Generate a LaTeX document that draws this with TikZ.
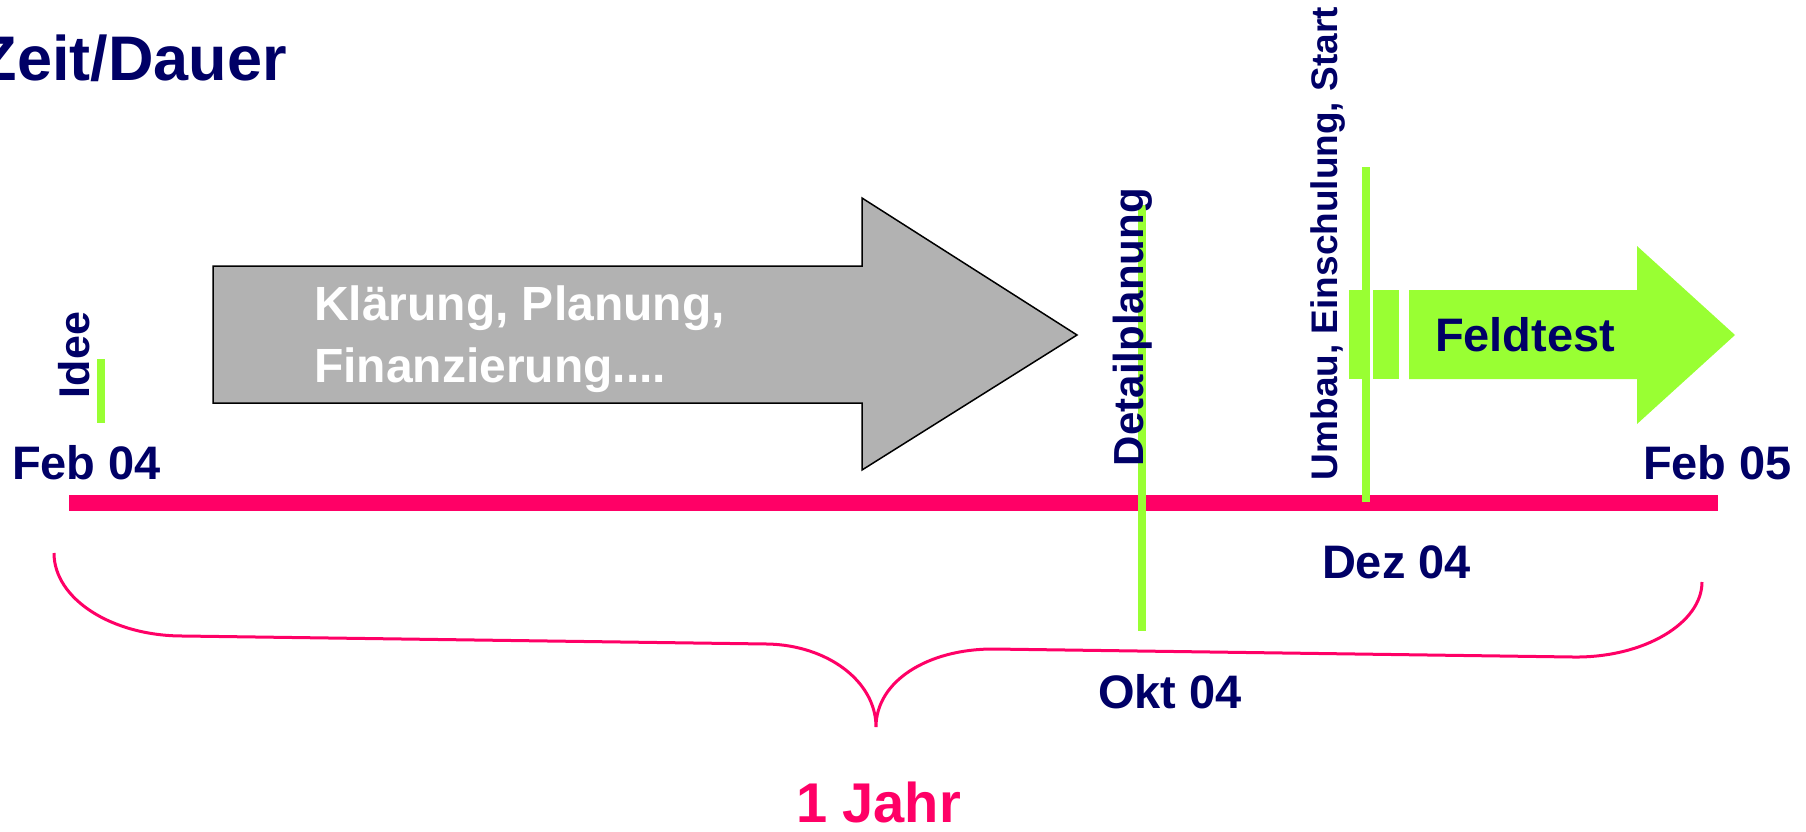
\documentclass[tikz,border=0pt]{standalone}
\usepackage{fontspec}
\setmainfont{Liberation Sans}
\definecolor{navy}{HTML}{000066}
\definecolor{rose}{HTML}{FF0066}
\definecolor{lime}{HTML}{99FF33}
\definecolor{stone}{HTML}{B2B2B2}
\tikzset{
  txt/.style={inner sep=0pt, outer sep=0pt, anchor=base west, text=navy},
  datelbl/.style={txt, font=\bfseries\fontsize{23.5}{28}\selectfont},
  milestone/.style={txt, rotate=90, font=\bfseries\fontsize{#1}{24}\selectfont},
  marker/.style={draw=lime, line width=4pt},
  timeline/.style={draw=rose, line width=8pt},
  brace/.style={draw=rose, line width=1.5pt},
}
\begin{document}
\begin{tikzpicture}[x=0.5pt, y=-0.5pt]
\useasboundingbox (0,0) rectangle (1806,831);

% heading
\node[txt, anchor=base east, font=\bfseries\fontsize{31.5}{38}\selectfont] (title) at (287,80) {Zeit/Dauer};

% time axis
\coordinate (axisL) at (69,503);
\coordinate (axisR) at (1718,503);
\path[timeline] (axisL) -- (axisR);

% phase 1: grey block arrow
\path[draw=black, line width=0.75pt, fill=stone]
  (213,266) -- (862,266) -- (862,198) -- (1077,335) -- (862,470) -- (862,403) -- (213,403) -- cycle;
\node[txt, text=white, font=\bfseries\fontsize{24}{31}\selectfont] (klaer1) at (314,320) {Klärung, Planung,};
\node[txt, text=white, font=\bfseries\fontsize{24}{31}\selectfont] (klaer2) at (314,382) {Finanzierung....};

% phase 2: striped green arrow
\path[fill=lime] (1349,290) rectangle (1365,379);
\path[fill=lime] (1373,290) rectangle (1399,379);
\path[fill=lime] (1409,290) -- (1637,290) -- (1637,246) -- (1735,335) -- (1637,424) -- (1637,379) -- (1409,379) -- cycle;
\node[txt, font=\bfseries\fontsize{23.5}{28}\selectfont] (feld) at (1435,351) {Feldtest};

% milestone markers
\coordinate (ideeT) at (101,359);
\coordinate (ideeB) at (101,423);
\path[marker] (ideeT) -- (ideeB);
\coordinate (detT) at (1141.5,205);
\coordinate (detB) at (1141.5,631);
\path[marker] (detT) -- (detB);
\coordinate (umbT) at (1365.5,167);
\coordinate (umbB) at (1365.5,502);
\path[marker] (umbT) -- (umbB);

% milestone labels
\node[milestone=21.5] (idee) at (89,398) {Idee};
\node[milestone=21] (detail) at (1143,466) {Detailplanung};
\node[milestone=18.5] (umbau) at (1337,480) {Umbau, Einschulung, Start};

% dates
\node[datelbl] (feb04) at (12,479) {Feb 04};
\node[datelbl, anchor=base east] (feb05) at (1792,479) {Feb 05};
\node[datelbl] (dez04) at (1322,578) {Dez 04};
\node[datelbl] (okt04) at (1098,708) {Okt 04};

% one-year brace
\path[brace] (54,553) .. controls (54,599) and (112,636) .. (183,636)
  -- (767,644) .. controls (827,645) and (876,681) .. (876,727)
  .. controls (876,681) and (928,649) .. (993,649)
  -- (1573,657) .. controls (1644,658) and (1702,623) .. (1702,582);
\node[txt, text=rose, font=\bfseries\fontsize{28}{34}\selectfont] (jahr) at (796,822) {1 Jahr};
\end{tikzpicture}
\end{document}
